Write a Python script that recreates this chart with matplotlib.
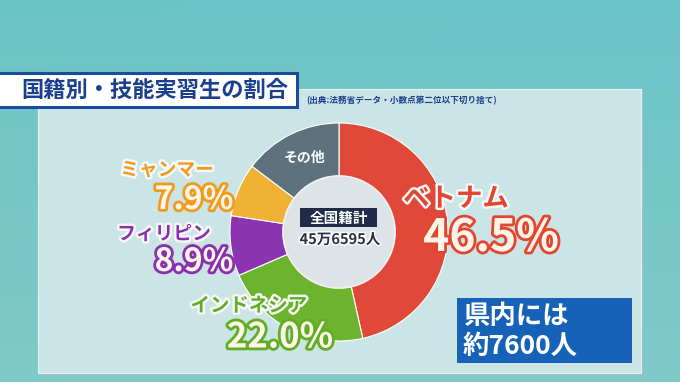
import numpy as np
import matplotlib
matplotlib.use("Agg")
import matplotlib.pyplot as plt
from matplotlib.patches import Rectangle, Circle
import matplotlib.patheffects as pe

plt.rcParams['font.family'] = ['Noto Sans CJK JP', 'DejaVu Sans']

# ---- data ----
categories = ["ベトナム", "インドネシア", "フィリピン", "ミャンマー", "その他"]
shares = [46.5, 22.0, 8.9, 7.9, 14.7]
wedge_colors = ["#e0493a", "#6cb42d", "#8a34b0", "#efb234", "#5e727d"]
label_colors = ["#e2462f", "#62ae22", "#8a2fae", "#f29a1c", "#ffffff"]
title = "国籍別・技能実習生の割合"
source = "(出典:法務省データ・小数点第二位以下切り捨て)"
center_title = "全国籍計"
center_total = "45万6595人"
note_lines = ["県内には", "約7600人"]

W, H = 680, 382
fig = plt.figure(figsize=(6.8, 3.82), dpi=100)
ax = fig.add_axes([0, 0, 1, 1])
ax.set_xlim(0, W)
ax.set_ylim(H, 0)
ax.axis("off")

# background gradient
yy = np.linspace(0, 1, 50)[:, None]
xx = np.linspace(0, 1, 50)[None, :]
c_top = np.array([0.42, 0.77, 0.77])
c_bot = np.array([0.50, 0.79, 0.78])
grad = c_top[None, None, :] * (1 - yy[..., None]) + c_bot[None, None, :] * yy[..., None]
grad = grad + 0.03 * xx[..., None] * np.array([0.0, 0.0, 0.3])
ax.imshow(np.clip(grad, 0, 1), extent=(0, W, H, 0), aspect="auto", zorder=0)

# panel
ax.add_patch(Rectangle((40, 91), 603, 284, fc="#9fbcbf", ec="none", zorder=1))
ax.add_patch(Rectangle((38, 89), 603, 284, fc="#cbe5e7", ec="#e3f1f1", lw=0.8, zorder=1.1))

# title box
ax.add_patch(Rectangle((-5, 73), 302, 34, fc="white", ec="#1b4b9c", lw=2.2, zorder=2))
ax.text(155, 90, title, fontsize=16, fontweight="bold", color="#1a3f8c",
        ha="center", va="center", zorder=3)
ax.text(306, 101, source, fontsize=6.2, color="#1a3f8c", fontweight="bold",
        ha="left", va="center", zorder=3)

# donut
cx, cy, R, r_in = 339, 232, 109, 56
wedges, _ = ax.pie(shares, colors=wedge_colors, startangle=-90, counterclock=True,
                   center=(cx, cy), radius=R, frame=True,
                   wedgeprops=dict(width=R - r_in, edgecolor="white", linewidth=0.8))
for w in wedges:
    w.set_zorder(4)
ax.set_xlim(0, W)
ax.set_ylim(H, 0)
ax.axis("off")
ax.add_patch(Circle((cx, cy), r_in, fc="#dde3e6", ec="#eef2f3", lw=1.2, zorder=5))

# center text
ax.add_patch(Rectangle((300, 208), 77, 19, fc="#1f2b48", ec="none", zorder=6))
ax.text(338.5, 217.5, center_title, fontsize=10.5, color="white", fontweight="bold",
        ha="center", va="center", zorder=7)
ax.text(340, 239, center_total, fontsize=10.5, color="#2a3042", fontweight="bold",
        ha="center", va="center", zorder=7,
        path_effects=[pe.withStroke(linewidth=2, foreground="white")])

# "その他" inside wedge
ax.text(305, 158, categories[4], fontsize=10, color=label_colors[4], fontweight="bold",
        ha="center", va="center", zorder=7)

# outside labels: (name position, pct position, name size, pct size)
layout = {
    0: ((456, 199), (491, 238), 19, 32),
    1: ((249, 306), (280, 337), 14, 25),
    2: ((164, 234), (194, 262), 13.5, 23),
    3: ((167, 170), (194, 200), 13.5, 23),
}
for i, ((nx, ny), (px, py), nfs, pfs) in layout.items():
    col = label_colors[i]
    ax.text(nx, ny, categories[i], fontsize=nfs, color=col, fontweight="bold",
            ha="center", va="center", zorder=8,
            path_effects=[pe.withStroke(linewidth=3.5, foreground="#f4f8f8")])
    ax.text(px, py, f"{shares[i]:.1f}%", fontsize=pfs, color="#fdf4ea",
            fontweight="bold", ha="center", va="center", zorder=8,
            path_effects=[pe.withStroke(linewidth=4, foreground=col)])

# note box
ax.add_patch(Rectangle((457, 298), 175, 65, fc="#1662b9", ec="none", zorder=6))
ax.text(463, 317, note_lines[0], fontsize=19, color="white", fontweight="bold",
        ha="left", va="center", zorder=7)
ax.text(463, 346, note_lines[1], fontsize=19, color="white", fontweight="bold",
        ha="left", va="center", zorder=7)

fig.savefig("out.png", dpi=100)
